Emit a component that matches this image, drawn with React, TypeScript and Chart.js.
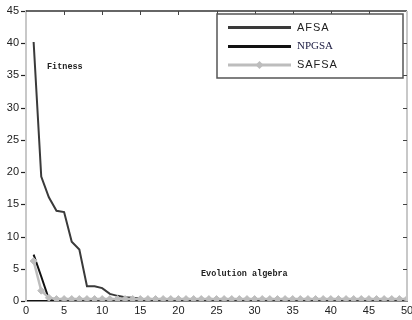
import React, { useEffect, useRef } from "react";
import { Chart, registerables } from "chart.js";

Chart.register(...registerables);

const generations = Array.from({ length: 50 }, (_, i) => i + 1);
const afsa = [40.2, 19.3, 16.1, 14.0, 13.8, 9.2, 8.0, 2.3, 2.3, 2.0, 1.1, 0.8, 0.6, 0.5, 0.4, 0.2, 0.1, 0.1, 0.1, 0.1,
  0.1, 0.1, 0.1, 0.1, 0.1, 0.1, 0.1, 0.1, 0.1, 0.1, 0.1, 0.1, 0.1, 0.1, 0.1, 0.1, 0.1, 0.1, 0.1, 0.1,
  0.1, 0.1, 0.1, 0.1, 0.1, 0.1, 0.1, 0.1, 0.1, 0.1];
const npgsa = [7.2, 3.8, 0.3, 0.1, 0.1, 0.1, 0.1, 0.1, 0.1, 0.1, 0.1, 0.1, 0.1, 0.1, 0.1, 0.1, 0.1, 0.1, 0.1, 0.1,
  0.1, 0.1, 0.1, 0.1, 0.1, 0.1, 0.1, 0.1, 0.1, 0.1, 0.1, 0.1, 0.1, 0.1, 0.1, 0.1, 0.1, 0.1, 0.1, 0.1,
  0.1, 0.1, 0.1, 0.1, 0.1, 0.1, 0.1, 0.1, 0.1, 0.1];
const safsa = [6.2, 1.6, 0.5, 0.3, 0.3, 0.3, 0.3, 0.3, 0.3, 0.3, 0.3, 0.3, 0.3, 0.3, 0.3, 0.3, 0.3, 0.3, 0.3, 0.3,
  0.3, 0.3, 0.3, 0.3, 0.3, 0.3, 0.3, 0.3, 0.3, 0.3, 0.3, 0.3, 0.3, 0.3, 0.3, 0.3, 0.3, 0.3, 0.3, 0.3,
  0.3, 0.3, 0.3, 0.3, 0.3, 0.3, 0.3, 0.3, 0.3, 0.3];
const seriesNames = ["AFSA", "NPGSA", "SAFSA"];
const seriesColors = ["#3a3a3a", "#111111", "#bdbdbd"];
const yLabelText = "Fitness";
const xLabelText = "Evolution algebra";

const toPoints = (vals: number[]) => vals.map((v, i) => ({ x: generations[i], y: v }));

const decorPlugin = {
  id: "decor",
  afterDraw(chart: any) {
    const { ctx, chartArea } = chart;
    const { left, right, top, bottom } = chartArea;
    const xs = chart.scales.x;
    const ys = chart.scales.y;
    ctx.save();
    // top border
    ctx.strokeStyle = "#333";
    ctx.lineWidth = 1.5;
    ctx.beginPath();
    ctx.moveTo(left, top);
    ctx.lineTo(right, top);
    ctx.stroke();
    // right border
    ctx.strokeStyle = "#c8c8c8";
    ctx.lineWidth = 2;
    ctx.beginPath();
    ctx.moveTo(right, top);
    ctx.lineTo(right, bottom);
    ctx.stroke();
    // inner ticks top
    ctx.strokeStyle = "#444";
    ctx.lineWidth = 1;
    for (let v = 5; v < 50; v += 5) {
      const px = Math.round(xs.getPixelForValue(v)) + 0.5;
      ctx.beginPath();
      ctx.moveTo(px, top);
      ctx.lineTo(px, top + 4);
      ctx.stroke();
    }
    for (let v = 5; v < 45; v += 5) {
      const py = Math.round(ys.getPixelForValue(v)) + 0.5;
      ctx.beginPath();
      ctx.moveTo(right, py);
      ctx.lineTo(right - 4, py);
      ctx.stroke();
    }
    // outer ticks on left axis
    ctx.strokeStyle = "#222";
    ctx.lineWidth = 1.2;
    for (let v = 0; v <= 45; v += 5) {
      const py = Math.round(ys.getPixelForValue(v)) + 0.5;
      ctx.beginPath();
      ctx.moveTo(left - 5, py);
      ctx.lineTo(left - 1, py);
      ctx.stroke();
    }
    // annotations
    ctx.fillStyle = "#222";
    ctx.font = "bold 8.5px 'Liberation Mono', monospace";
    ctx.textBaseline = "middle";
    ctx.textAlign = "left";
    ctx.fillText(yLabelText, 47, 67);
    ctx.fillText(xLabelText, 201, 274);
    // legend box
    const bx = 217, by = 14, bw = 186, bh = 64;
    ctx.fillStyle = "#fff";
    ctx.fillRect(bx, by, bw, bh);
    ctx.strokeStyle = "#555";
    ctx.lineWidth = 1.5;
    ctx.strokeRect(bx, by, bw, bh);
    const rows = [27.5, 46.5, 65];
    seriesNames.forEach((name, i) => {
      const y = rows[i];
      ctx.strokeStyle = seriesColors[i];
      ctx.lineWidth = 3;
      ctx.beginPath();
      ctx.moveTo(228, y);
      ctx.lineTo(291, y);
      ctx.stroke();
      if (i === 2) {
        ctx.fillStyle = seriesColors[i];
        ctx.beginPath();
        ctx.moveTo(259.5, y - 4);
        ctx.lineTo(263.5, y);
        ctx.lineTo(259.5, y + 4);
        ctx.lineTo(255.5, y);
        ctx.closePath();
        ctx.fill();
      }
      ctx.fillStyle = i === 1 ? "#1a1a40" : "#222";
      ctx.font = i === 1 ? "11px 'Liberation Serif', serif" : "11px 'Liberation Sans', Arial, sans-serif";
      ctx.textAlign = "left";
      ctx.textBaseline = "middle";
      const txt = i === 1 ? name : name.split("").join("\u200A");
      ctx.fillText(txt, 297, y);
    });
    ctx.restore();
  },
};

export default function App() {
  const ref = useRef<HTMLCanvasElement | null>(null);
  useEffect(() => {
    if (!ref.current) return;
    const chart = new Chart(ref.current, {
      type: "line",
      data: {
        datasets: [
          {
            label: seriesNames[0],
            data: toPoints(afsa),
            borderColor: seriesColors[0],
            borderWidth: 2,
            pointRadius: 0,
            tension: 0,
            order: 2,
          },
          {
            label: seriesNames[1],
            data: toPoints(npgsa),
            borderColor: seriesColors[1],
            borderWidth: 2,
            pointRadius: 0,
            tension: 0,
            order: 1,
          },
          {
            label: seriesNames[2],
            data: toPoints(safsa),
            borderColor: seriesColors[2],
            backgroundColor: seriesColors[2],
            borderWidth: 2.5,
            pointStyle: "rectRot",
            pointRadius: 3.5,
            pointBorderWidth: 1,
            tension: 0,
            order: 0,
          },
        ],
      },
      options: {
        animation: false,
        responsive: true,
        maintainAspectRatio: false,
        layout: { padding: { top: 11, right: 4, left: 0, bottom: 0 } },
        plugins: { legend: { display: false }, tooltip: { enabled: false } },
        scales: {
          x: {
            type: "linear",
            min: 0,
            max: 50,
            ticks: { stepSize: 5, color: "#222", font: { family: "'Liberation Sans', Arial, sans-serif", size: 11 }, padding: 3, maxRotation: 0 },
            grid: { display: false, drawTicks: false },
            border: { display: true, color: "#111", width: 1.5 },
            afterFit: (s: any) => { s.height = 19; s.paddingLeft = 0; s.paddingRight = 0; },
          },
          y: {
            min: 0,
            max: 45,
            ticks: { stepSize: 5, color: "#222", font: { family: "'Liberation Sans', Arial, sans-serif", size: 11 }, padding: 7 },
            grid: { display: false, drawTicks: false },
            border: { display: true, color: "#c8c8c8", width: 2 },
            afterFit: (s: any) => { s.width = 26; s.paddingTop = 0; s.paddingBottom = 0; },
          },
        },
      },
      plugins: [decorPlugin],
    } as any);
    return () => chart.destroy();
  }, []);
  return (
    <div style={{ position: "fixed", left: 0, top: 0, width: 412, height: 320, background: "#fff" }}>
      <canvas ref={ref} />
    </div>
  );
}
